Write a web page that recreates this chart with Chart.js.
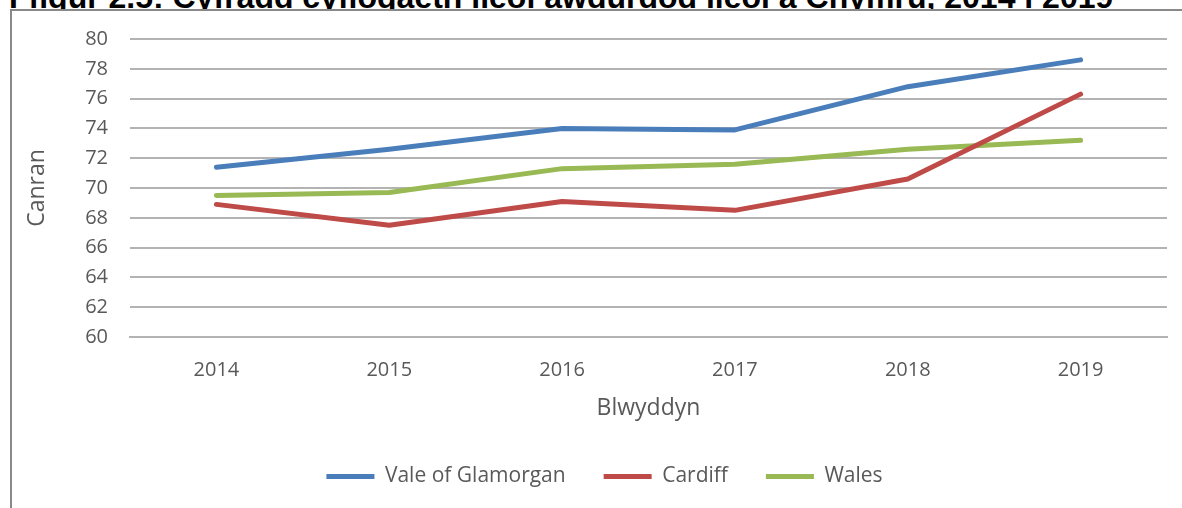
<!DOCTYPE html>
<html>
<head>
<meta charset="utf-8">
<script src="https://cdn.jsdelivr.net/npm/chart.js@4"></script>
<style>
  html, body { margin: 0; padding: 0; background: #fff; width: 1182px; height: 508px; overflow: hidden; }
  #title { position: absolute; left: 9px; top: -19px; font: bold 32px/32px "Liberation Sans", Arial, sans-serif; color: #000; white-space: nowrap; }
  #frame { position: absolute; left: 10px; top: 9px; width: 1200px; height: 520px; border-left: 2px solid #898989; border-top: 2px solid #898989; box-sizing: border-box; background: #fff; }
  #wrap { position: absolute; left: 12px; top: 5px; width: 1170px; height: 505px; }
</style>
</head>
<body>
<div id="title">Ffigur 2.5: Cyfradd cyflogaeth lleol awdurdod lleol a Chymru, 2014 i 2019</div>
<div id="frame"></div>
<div id="wrap"><canvas id="c"></canvas></div>
<script>
const years = ["2014", "2015", "2016", "2017", "2018", "2019"];
const seriesNames = ["Vale of Glamorgan", "Cardiff", "Wales"];
const valeOfGlamorgan = [71.4, 72.6, 74.0, 73.9, 76.8, 78.6];
const cardiff = [68.9, 67.5, 69.1, 68.5, 70.6, 76.3];
const wales = [69.5, 69.7, 71.3, 71.6, 72.6, 73.2];
const colors = ["#4A7EBB", "#BE4B48", "#98B954"];
const yMin = 60, yMax = 80, yStep = 2;

const font = "'Open Sans', 'Liberation Sans', sans-serif";
const datasets = [valeOfGlamorgan, cardiff, wales].map((d, i) => ({
  label: seriesNames[i],
  data: d,
  borderColor: colors[i],
  backgroundColor: colors[i],
  borderWidth: 5,
  borderCapStyle: 'round',
  borderJoinStyle: 'round',
  pointRadius: 0,
  pointHoverRadius: 0,
  tension: 0,
  fill: false
}));

new Chart(document.getElementById('c'), {
  type: 'line',
  data: { labels: years, datasets },
  options: {
    responsive: true,
    maintainAspectRatio: false,
    animation: false,
    layout: { padding: { top: 22, right: 15, bottom: 13, left: 30 } },
    plugins: {
      tooltip: { enabled: false },
      legend: {
        position: 'bottom',
        labels: {
          usePointStyle: true,
          pointStyle: 'line',
          pointStyleWidth: 48,
          color: '#595959',
          padding: 38,
          font: { family: font, size: 21 }
        }
      }
    },
    scales: {
      x: {
        offset: true,
        grid: { display: false, drawTicks: false },
        border: { display: true, color: '#b3b3b3', width: 2 },
        ticks: { color: '#595959', font: { family: font, size: 20 }, padding: 21, maxRotation: 0 },
        title: { display: true, text: 'Blwyddyn', color: '#595959', font: { family: font, size: 23 }, padding: { top: 0, bottom: 6 } },
        afterFit: s => { s.height = 91; }
      },
      y: {
        min: yMin, max: yMax,
        grid: { color: '#b3b3b3', lineWidth: 2, drawTicks: false },
        border: { display: false },
        ticks: { stepSize: yStep, color: '#595959', font: { family: font, size: 20 }, padding: 22 },
        title: { display: true, text: 'Canran', color: '#595959', font: { family: font, size: 23 }, padding: { top: -18, bottom: 0 } },
        afterFit: s => { s.width = 88; }
      }
    }
  }
});
</script>
</body>
</html>
